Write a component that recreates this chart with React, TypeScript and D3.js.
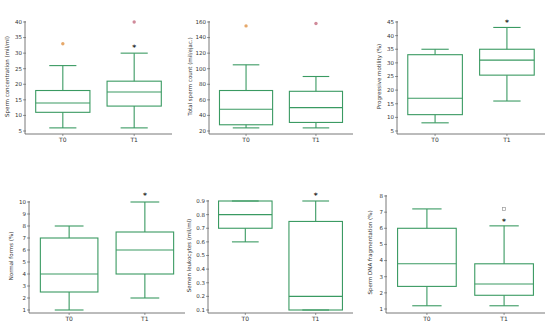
import * as d3 from 'd3';

const groups = ['T0', 'T1'];

// box stats per panel: [low whisker, q1, median, q3, high whisker] for T0 and T1
const concStats = [[6, 11, 14, 18, 26], [6, 13, 17.5, 21, 30]];
const countStats = [[24, 28, 48, 72, 105], [24, 31, 50, 71, 90]];
const motilityStats = [[8, 11, 17, 33, 35], [16, 25.5, 31, 35, 43]];
const formsStats = [[1, 2.5, 4, 7, 8], [2, 4, 6, 7.5, 10]];
const leukoStats = [[0.6, 0.7, 0.8, 0.9, 0.9], [0.1, 0.1, 0.2, 0.75, 0.9]];
const dnaStats = [[1.2, 2.4, 3.8, 6, 7.2], [1.2, 1.85, 2.55, 3.8, 6.15]];

// outliers: [group, value, kind]
const concOutliers = [['T0', 33, 'orange'], ['T1', 40, 'pink']];
const countOutliers = [['T0', 155, 'orange'], ['T1', 158, 'pink']];
const dnaOutliers = [['T1', 7.2, 'square']];

// significance stars: [group, value]
const concStars = [['T1', 32]];
const motilityStars = [['T1', 45]];
const formsStars = [['T1', 10.6]];
const leukoStars = [['T1', 0.95]];
const dnaStars = [['T1', 6.5]];

const concTicks = [5, 10, 15, 20, 25, 30, 35, 40];
const countTicks = [20, 40, 60, 80, 100, 120, 140, 160];
const motilityTicks = [5, 10, 15, 20, 25, 30, 35, 40, 45];
const formsTicks = [1, 2, 3, 4, 5, 6, 7, 8, 9, 10];
const leukoTicks = [0.1, 0.2, 0.3, 0.4, 0.5, 0.6, 0.7, 0.8, 0.9];
const dnaTicks = [1, 2, 3, 4, 5, 6, 7, 8];

const GREEN = '#3a9a62';
const AXIS = '#555';

const markerColor: Record<string, string> = { orange: '#e6a86a', pink: '#d08a9a', square: '#999' };

type PanelProps = {
  x0: number; x1: number; yTop: number; yBottom: number; axisY: number; labelX: number;
  title: string; ticks: number[]; stats: number[][];
  outliers?: any[]; stars?: any[]; fmt?: (d: number) => string;
};

function Panel({ x0, x1, yTop, yBottom, axisY, labelX, title, ticks, stats, outliers = [], stars = [], fmt = d3.format('d') }: PanelProps) {
  const y = d3.scaleLinear().domain([ticks[0], ticks[ticks.length - 1]]).range([yBottom, yTop]);
  const x = d3.scalePoint().domain(groups).range([x0, x1]).padding(0.53);
  const bw = x.step() * 0.76;
  return (
    <g>
      <line x1={x0} x2={x0} y1={yTop - 1} y2={axisY} stroke={AXIS} strokeWidth={0.8} />
      <line x1={x0} x2={x1} y1={axisY} y2={axisY} stroke={AXIS} strokeWidth={0.8} />
      {ticks.map(t => (
        <g key={t}>
          <line x1={x0 - 2} x2={x0 + 1} y1={y(t)} y2={y(t)} stroke={AXIS} strokeWidth={0.6} />
          <text x={x0 - 3} y={y(t)} dy="0.35em" textAnchor="end" fontSize={5.5} fill="#333">{fmt(t)}</text>
        </g>
      ))}
      {groups.map(g => (
        <g key={g}>
          <line x1={x(g)} x2={x(g)} y1={axisY} y2={axisY + 2} stroke={AXIS} strokeWidth={0.6} />
          <text x={x(g)} y={axisY + 7.5} textAnchor="middle" fontSize={6} fill="#333">{g}</text>
        </g>
      ))}
      <text transform={`translate(${labelX},${(yTop + yBottom) / 2}) rotate(-90)`} textAnchor="middle" fontSize={5.5} fill="#333">{title}</text>
      {stats.map((s, i) => {
        const cx = x(groups[i])!;
        const [lo, q1, med, q3, hi] = s;
        return (
          <g key={i} stroke={GREEN} strokeWidth={1.1} fill="none">
            <line x1={cx} x2={cx} y1={y(lo)} y2={y(q1)} />
            <line x1={cx} x2={cx} y1={y(q3)} y2={y(hi)} />
            <line x1={cx - bw / 4} x2={cx + bw / 4} y1={y(lo)} y2={y(lo)} />
            <line x1={cx - bw / 4} x2={cx + bw / 4} y1={y(hi)} y2={y(hi)} />
            <rect x={cx - bw / 2} y={y(q3)} width={bw} height={y(q1) - y(q3)} />
            <line x1={cx - bw / 2} x2={cx + bw / 2} y1={y(med)} y2={y(med)} />
          </g>
        );
      })}
      {outliers.map((o, i) => o[2] === 'square' ? (
        <rect key={i} x={x(o[0])! - 1.5} y={y(o[1]) - 1.5} width={3} height={3} fill="none" stroke={markerColor.square} strokeWidth={0.7} />
      ) : (
        <circle key={i} cx={x(o[0])} cy={y(o[1])} r={1.7} fill={markerColor[o[2]]} />
      ))}
      {stars.map((s, i) => (
        <text key={i} x={x(s[0])} y={y(s[1])} dy="0.45em" textAnchor="middle" fontSize={7.5} fontWeight="bold" fill="#222">*</text>
      ))}
    </g>
  );
}

export default function App() {
  const f1 = d3.format('.1f');
  return (
    <svg width={550} height={334} style={{ position: 'absolute', left: 0, top: 0, background: '#fff', fontFamily: 'DejaVu Sans, sans-serif' }}>
      <Panel x0={25} x1={172} yTop={22} yBottom={131} axisY={134} labelX={9} title="Sperm concentration (mil/ml)" ticks={concTicks} stats={concStats} outliers={concOutliers} stars={concStars} />
      <Panel x0={209} x1={353} yTop={22} yBottom={131} axisY={134} labelX={192} title="Total sperm count (mil/ejac.)" ticks={countTicks} stats={countStats} outliers={countOutliers} />
      <Panel x0={397} x1={545} yTop={22} yBottom={131} axisY={134} labelX={381} title="Progressive motility (%)" ticks={motilityTicks} stats={motilityStats} stars={motilityStars} />
      <Panel x0={29} x1={185} yTop={202} yBottom={310} axisY={313} labelX={13} title="Normal forms (%)" ticks={formsTicks} stats={formsStats} stars={formsStars} />
      <Panel x0={208} x1={353} yTop={201} yBottom={310} axisY={313} labelX={191} title="Semen leukocytes (mil/ml)" ticks={leukoTicks} stats={leukoStats} stars={leukoStars} fmt={f1} />
      <Panel x0={386} x1={545} yTop={196} yBottom={309} axisY={313} labelX={372} title="Sperm DNA fragmentation (%)" ticks={dnaTicks} stats={dnaStats} outliers={dnaOutliers} stars={dnaStars} />
    </svg>
  );
}
